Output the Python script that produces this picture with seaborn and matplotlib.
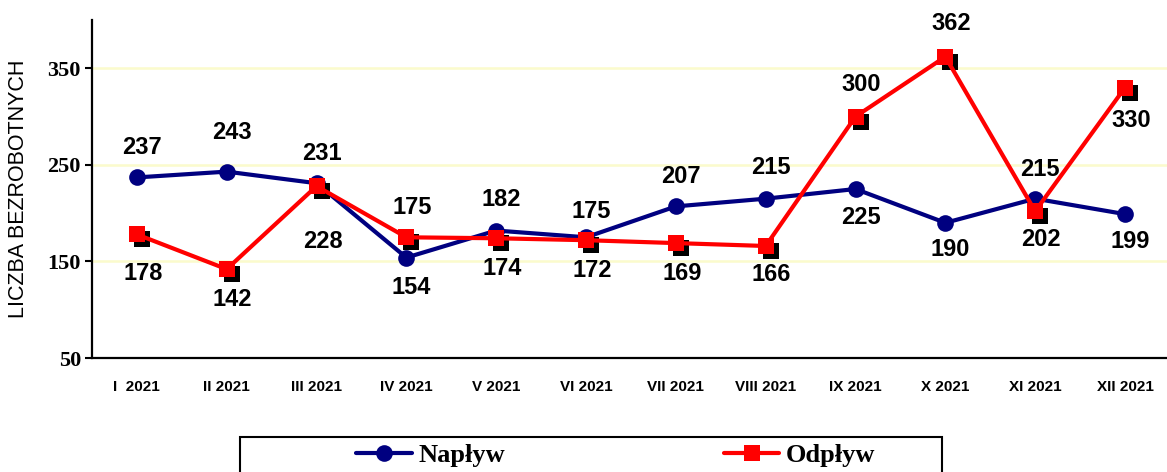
import pandas as pd
import matplotlib
matplotlib.use("Agg")
import matplotlib.pyplot as plt
import matplotlib.transforms as mtransforms
from matplotlib.lines import Line2D
from matplotlib.patches import Rectangle
import seaborn as sns

# dane
miesiace = ["I  2021", "II 2021", "III 2021", "IV 2021", "V 2021", "VI 2021",
            "VII 2021", "VIII 2021", "IX 2021", "X 2021", "XI 2021", "XII 2021"]
naplyw = [237, 243, 231, 154, 182, 175, 207, 215, 225, 190, 215, 199]
odplyw = [178, 142, 228, 175, 174, 172, 169, 166, 300, 362, 202, 330]
y_ticks = [50, 150, 250, 350]

# polozenie etykiet (piksele w pionie, + nad punktem, - pod punktem)
naplyw_lab = [30, 39, 30, -30, 31, 26, 30, 31, -28, -27, 29, -27]
odplyw_lab = [-39, -30, -55, 30, -30, -30, -30, -29, 32, 33, -28, -33]

NAVY = "#000080"
RED = "#ff0000"

sns.set_style("ticks")
plt.rcParams['font.family'] = ['Liberation Sans', 'DejaVu Sans']
plt.rcParams.update({'text.color': 'black', 'axes.labelcolor': 'black',
                     'xtick.color': 'black', 'ytick.color': 'black',
                     'axes.edgecolor': 'black'})

df = pd.DataFrame({
    'miesiac': miesiace * 2,
    'liczba': naplyw + odplyw,
    'seria': ['Napływ'] * len(naplyw) + ['Odpływ'] * len(odplyw),
})

fig = plt.figure(figsize=(11.67, 4.72), dpi=100)
ax = fig.add_axes([0.0788, 0.2415, 0.9237, 0.7161])

sns.lineplot(data=df[df['seria'] == 'Napływ'], x='miesiac', y='liczba',
             color=NAVY, marker='o', markersize=12, markeredgewidth=0,
             linewidth=3, sort=False, ax=ax, legend=False, zorder=3)

# cien pod kwadratami
shadow = mtransforms.offset_copy(ax.transData, fig=fig, x=5, y=-5, units='dots')
ax.plot(miesiace, odplyw, linestyle='none', marker='s', markersize=12,
        color='black', markeredgewidth=0, transform=shadow, zorder=4)

sns.lineplot(data=df[df['seria'] == 'Odpływ'], x='miesiac', y='liczba',
             color=RED, marker='s', markersize=12, markeredgewidth=0,
             linewidth=3, sort=False, ax=ax, legend=False, zorder=5)

for i, (v, dy) in enumerate(zip(naplyw, naplyw_lab)):
    ax.annotate(str(v), (i, v), xytext=(5, dy), textcoords='offset pixels',
                ha='center', va='center', fontsize=17, fontweight='bold', zorder=6)
for i, (v, dy) in enumerate(zip(odplyw, odplyw_lab)):
    ax.annotate(str(v), (i, v), xytext=(6, dy), textcoords='offset pixels',
                ha='center', va='center', fontsize=17, fontweight='bold', zorder=6)

ax.set_xlim(-0.5, 11.5)
ax.set_ylim(50, 400)
ax.set_yticks(y_ticks)
ax.yaxis.grid(True, color='#fbfbcc', linewidth=1.8)
ax.set_axisbelow(True)

for lab in ax.get_yticklabels():
    lab.set_family(['Liberation Serif', 'DejaVu Serif'])
    lab.set_fontweight('bold')
    lab.set_fontsize(16)
for lab in ax.get_xticklabels():
    lab.set_fontweight('bold')
    lab.set_fontsize(11)

ax.tick_params(axis='y', length=5, width=1.5, direction='out', pad=3)
ax.tick_params(axis='x', length=0, pad=16)
sns.despine(ax=ax)
ax.spines['left'].set_linewidth(1.6)
ax.spines['bottom'].set_linewidth(1.6)

ax.set_xlabel('')
ax.set_ylabel('LICZBA BEZROBOTNYCH', fontsize=15.5)
ax.yaxis.set_label_coords(-0.058, 0.5)

# legenda
fig.add_artist(Rectangle((240 / 1167, -0.05), 702 / 1167, 0.1242,
                         transform=fig.transFigure, fill=False,
                         edgecolor='black', linewidth=1.5, clip_on=False))
handles = [
    Line2D([], [], color=NAVY, linewidth=3, marker='o', markersize=12, markeredgewidth=0),
    Line2D([], [], color=RED, linewidth=3, marker='s', markersize=12, markeredgewidth=0),
]
fig.legend(handles, ['Napływ', 'Odpływ'], loc='center left',
           bbox_to_anchor=(343 / 1167, 0.036), ncol=2, frameon=False,
           borderpad=0, handlelength=2.1, handletextpad=0.25, columnspacing=8.3,
           prop={'family': ['Liberation Serif', 'DejaVu Serif'], 'weight': 'bold', 'size': 19})

fig.savefig('out.png', dpi=100)
